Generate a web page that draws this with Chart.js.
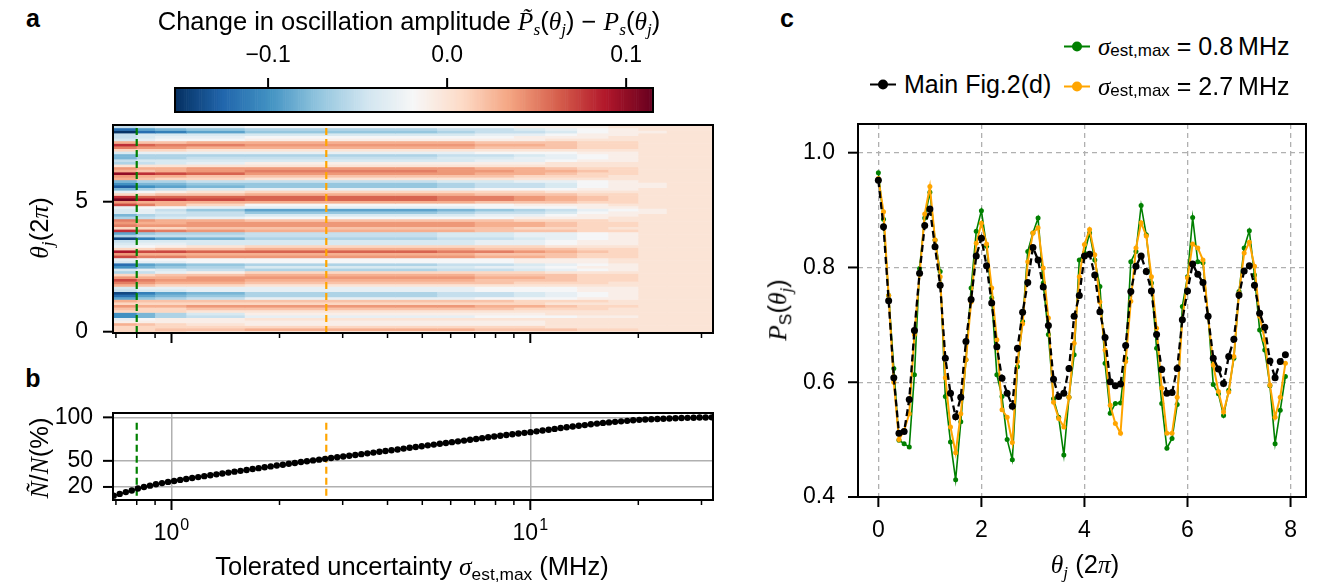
<!DOCTYPE html>
<html>
<head>
<meta charset="utf-8">
<script src="https://cdn.jsdelivr.net/npm/chart.js@4.4.0/dist/chart.umd.min.js"></script>
<style>
  body { margin: 0; background: #fff; }
  #fig { position: relative; width: 1319px; height: 587px; overflow: hidden;
         font-family: "Liberation Sans", Arial, sans-serif; color: #000; }
  canvas { position: absolute; }
  .lbl { position: absolute; white-space: nowrap; font-size: 25.5px; line-height: 1;
         transform: translate(-50%, -50%); z-index: 2; }
  .rot { transform: translate(-50%, -50%) rotate(-90deg); }
  .m { font-family: "Liberation Serif", "DejaVu Serif", serif; font-style: italic; }
  .sb { font-size: 0.68em; position: relative; top: 0.28em; }
  .panel { font-weight: bold; font-size: 25px; }
  .leg { position: absolute; display: flex; align-items: center; transform: translateY(-50%);
         font-size: 25px; white-space: nowrap; z-index: 2; }
  .mk { position: relative; width: 26px; height: 2px; background: var(--c); margin-right: 8px; }
  .mk::after { content: ""; position: absolute; left: 8px; top: -4px; width: 10px; height: 10px;
               border-radius: 50%; background: var(--c); }
</style>
</head>
<body>
<div id="fig">
  <canvas id="cbar" width="560" height="90" style="left:140px;top:30px"></canvas>
  <canvas id="heat" width="730" height="245" style="left:0;top:105px"></canvas>
  <canvas id="frac" width="730" height="192" style="left:0;top:395px"></canvas>
  <canvas id="osc" width="539" height="487" style="left:780px;top:100px"></canvas>

  <div class="lbl panel" style="left:33px;top:18px">a</div>
  <div class="lbl panel" style="left:33px;top:378px">b</div>
  <div class="lbl panel" style="left:787px;top:18px">c</div>

  <div class="lbl" style="left:409px;top:22px">Change in oscillation amplitude <span class="m">P̃</span><span class="sb m">s</span>(<span class="m">θ</span><span class="sb m">j</span>) − <span class="m">P</span><span class="sb m">s</span>(<span class="m">θ</span><span class="sb m">j</span>)</div>
  <div class="lbl rot" style="left:40px;top:228px"><span class="m">θ</span><span class="sb m">j</span>(2<span class="m">π</span>)</div>
  <div class="lbl rot" style="left:40px;top:458px"><span class="m">Ñ</span>/<span class="m">N</span>(%)</div>
  <div class="lbl" style="left:412px;top:567px">Tolerated uncertainty <span class="m">σ</span><span class="sb">est,max</span> (MHz)</div>
  <div class="lbl rot" style="left:778px;top:310px"><span class="m">P</span><span class="sb">S</span>(<span class="m">θ</span><span class="sb m">j</span>)</div>
  <div class="lbl" style="left:1085px;top:565px"><span class="m">θ</span><span class="sb m">j</span> (2<span class="m">π</span>)</div>

  <div class="leg" style="left:870px;top:84px"><span class="mk" style="--c:#000"></span>Main Fig.2(d)</div>
  <div class="leg" style="left:1064px;top:46px"><span class="mk" style="--c:#008000"></span><span class="m">σ</span><span class="sb">est,max</span>&nbsp;= 0.8&#8201;MHz</div>
  <div class="leg" style="left:1064px;top:86px"><span class="mk" style="--c:#ffa500"></span><span class="m">σ</span><span class="sb">est,max</span>&nbsp;= 2.7&#8201;MHz</div>
</div>

<script>
// --- DATA ---
// panel c: theta_j in units of 2pi
const thetaValues = [
  0.0, 0.1, 0.2, 0.3, 0.4, 0.5, 0.6, 0.7, 0.8, 0.9, 1.0, 1.1, 1.2, 1.3, 1.4, 1.5, 1.6, 1.7, 1.8, 1.9,
  2.0, 2.1, 2.2, 2.3, 2.4, 2.5, 2.6, 2.7, 2.8, 2.9, 3.0, 3.1, 3.2, 3.3, 3.4, 3.5, 3.6, 3.7, 3.8, 3.9,
  4.0, 4.1, 4.2, 4.3, 4.4, 4.5, 4.6, 4.7, 4.8, 4.9, 5.0, 5.1, 5.2, 5.3, 5.4, 5.5, 5.6, 5.7, 5.8, 5.9,
  6.0, 6.1, 6.2, 6.3, 6.4, 6.5, 6.6, 6.7, 6.8, 6.9, 7.0, 7.1, 7.2, 7.3, 7.4, 7.5, 7.6, 7.7, 7.8, 7.9
];
const psMainFig = [
  0.952, 0.871, 0.742, 0.608, 0.511, 0.514, 0.570, 0.690, 0.790, 0.873, 0.902, 0.836, 0.769, 0.642, 0.581, 0.540, 0.574, 0.671, 0.744, 0.820,
  0.851, 0.803, 0.738, 0.662, 0.607, 0.581, 0.558, 0.659, 0.722, 0.774, 0.835, 0.813, 0.766, 0.699, 0.605, 0.575, 0.581, 0.624, 0.715, 0.751,
  0.820, 0.823, 0.787, 0.723, 0.678, 0.601, 0.594, 0.597, 0.664, 0.758, 0.802, 0.820, 0.793, 0.759, 0.683, 0.622, 0.581, 0.582, 0.624, 0.709,
  0.759, 0.806, 0.788, 0.774, 0.715, 0.642, 0.623, 0.598, 0.645, 0.675, 0.752, 0.794, 0.803, 0.769, 0.720, 0.696, 0.637, 0.608, 0.636, 0.648
];
const psSigma08 = [
  0.965, 0.884, 0.751, 0.624, 0.499, 0.493, 0.487, 0.613, 0.798, 0.886, 0.931, 0.848, 0.793, 0.575, 0.496, 0.430, 0.531, 0.639, 0.764, 0.863,
  0.899, 0.837, 0.747, 0.613, 0.575, 0.500, 0.465, 0.627, 0.706, 0.828, 0.860, 0.886, 0.773, 0.683, 0.571, 0.539, 0.473, 0.574, 0.648, 0.813,
  0.825, 0.860, 0.813, 0.767, 0.633, 0.546, 0.563, 0.564, 0.642, 0.810, 0.828, 0.908, 0.857, 0.773, 0.659, 0.563, 0.485, 0.502, 0.561, 0.732,
  0.784, 0.887, 0.810, 0.808, 0.715, 0.596, 0.580, 0.542, 0.586, 0.642, 0.758, 0.834, 0.864, 0.787, 0.691, 0.656, 0.594, 0.493, 0.551, 0.610
];
const psSigma27 = [
  0.955, 0.897, 0.751, 0.600, 0.500, 0.516, 0.545, 0.683, 0.788, 0.893, 0.941, 0.848, 0.784, 0.608, 0.522, 0.477, 0.545, 0.639, 0.740, 0.842,
  0.877, 0.841, 0.764, 0.674, 0.552, 0.539, 0.495, 0.636, 0.702, 0.810, 0.860, 0.869, 0.799, 0.712, 0.565, 0.537, 0.522, 0.574, 0.668, 0.784,
  0.840, 0.866, 0.822, 0.740, 0.656, 0.560, 0.528, 0.511, 0.636, 0.741, 0.834, 0.878, 0.855, 0.784, 0.694, 0.590, 0.511, 0.511, 0.574, 0.709,
  0.782, 0.841, 0.834, 0.813, 0.715, 0.630, 0.584, 0.548, 0.583, 0.645, 0.755, 0.825, 0.844, 0.802, 0.715, 0.674, 0.595, 0.539, 0.574, 0.633
];

// panel b: tolerated uncertainty (MHz) and retained fraction (%)
const sigmaSamples = [
  0.690, 0.717, 0.746, 0.775, 0.806, 0.838, 0.871, 0.905, 0.941, 0.978,
  1.017, 1.057, 1.099, 1.142, 1.187, 1.234, 1.283, 1.334, 1.386, 1.441,
  1.498, 1.557, 1.619, 1.683, 1.749, 1.818, 1.890, 1.965, 2.043, 2.123,
  2.207, 2.295, 2.385, 2.480, 2.578, 2.680, 2.785, 2.896, 3.010, 3.129,
  3.253, 3.381, 3.515, 3.654, 3.798, 3.948, 4.104, 4.267, 4.435, 4.611,
  4.793, 4.982, 5.179, 5.384, 5.597, 5.818, 6.048, 6.287, 6.536, 6.794,
  7.063, 7.342, 7.632, 7.934, 8.248, 8.574, 8.913, 9.265, 9.631, 10.01,
  10.41, 10.82, 11.25, 11.69, 12.15, 12.63, 13.13, 13.65, 14.19, 14.75,
  15.34, 15.94, 16.57, 17.23, 17.91, 18.62, 19.35, 20.12, 20.91, 21.74,
  22.60, 23.49, 24.42, 25.39, 26.39, 27.43, 28.52, 29.64, 30.81, 32.03
];
const retainedPct = [
  10.0, 12.0, 14.1, 16.0, 18.2, 19.9, 21.5, 23.1, 24.4, 25.8,
  26.9, 28.1, 29.2, 30.3, 31.3, 32.4, 33.5, 34.5, 35.5, 36.5,
  37.6, 38.5, 39.5, 40.6, 41.6, 42.6, 43.6, 44.6, 45.6, 46.6,
  47.6, 48.6, 49.6, 50.5, 51.4, 52.3, 53.2, 54.1, 55.0, 55.9,
  56.8, 57.7, 58.6, 59.5, 60.4, 61.3, 62.2, 63.1, 64.1, 65.0,
  65.9, 66.8, 67.8, 68.7, 69.6, 70.6, 71.5, 72.4, 73.3, 74.3,
  75.2, 76.1, 77.1, 78.0, 78.8, 79.7, 80.5, 81.4, 82.2, 83.0,
  83.9, 84.9, 85.8, 86.7, 87.7, 88.6, 89.4, 90.3, 91.1, 92.0,
  92.8, 93.6, 94.2, 94.8, 95.4, 96.0, 96.6, 97.1, 97.5, 97.8,
  98.1, 98.4, 98.7, 99.0, 99.2, 99.4, 99.6, 99.8, 99.9, 100.0
];
const markerSigmas = [0.8, 2.7];

// panel a: heatmap column edges (MHz) and change per row (units of 0.01), row i <-> thetaValues[i]
const sigmaEdges = [0.687, 0.8, 0.9, 1.1, 1.6, 2.7, 4.2, 5.5, 7, 9, 11, 13.5, 16.5, 20, 24, 32.3];
const changeGrid = [
  [1,1,1,0,0,0,0,0,0,0,0,0,0,0,0],
  [1,1,2,2,3,3,3,3,2,2,2,1,1,0,0],
  [1,1,1,1,1,1,1,1,1,1,0,0,0,0,0],
  [3,2,1,0,-1,-1,-1,-1,-1,-1,0,0,0,0,0],
  [-1,-1,-1,-1,-1,-1,-1,-1,-1,-1,0,0,0,0,0],
  [-3,-2,-1,-1,0,0,0,0,0,0,0,0,0,0,0],
  [-10,-8,-6,-5,-3,-3,-3,-3,-2,-2,-2,-1,-1,0,0],
  [-10,-8,-6,-4,-1,-1,-1,-1,-1,-1,0,0,0,0,0],
  [1,1,1,0,0,0,0,0,0,0,0,0,0,0,0],
  [2,1,1,2,2,2,2,2,2,1,1,1,0,0,0],
  [4,3,3,4,4,4,4,4,3,3,2,1,1,0,0],
  [1,1,1,1,1,1,1,1,1,1,0,0,0,0,0],
  [3,2,2,2,2,2,2,2,2,1,1,1,0,0,0],
  [-9,-7,-6,-5,-3,-3,-3,-3,-2,-2,-2,-1,-1,0,0],
  [-12,-9,-8,-7,-6,-6,-6,-5,-5,-4,-3,-2,-1,0,0],
  [-14,-11,-9,-8,-6,-6,-6,-5,-5,-4,-3,-2,-1,0,0],
  [-5,-4,-4,-3,-3,-3,-3,-3,-2,-2,-2,-1,-1,0,0],
  [-4,-3,-3,-3,-3,-3,-3,-3,-2,-2,-2,-1,-1,0,0],
  [3,2,1,1,0,0,0,0,0,0,0,0,0,0,0],
  [5,4,3,3,2,2,2,2,2,1,1,1,0,0,0],
  [7,5,4,4,3,3,3,3,2,2,2,1,1,0,0],
  [4,3,3,4,4,4,4,4,3,3,2,1,1,0,0],
  [1,1,2,2,3,3,3,3,2,2,2,1,1,0,0],
  [-6,-5,-3,-1,1,1,1,1,1,1,0,0,0,0,0],
  [-4,-3,-4,-5,-6,-6,-6,-5,-5,-4,-3,-2,-1,0,0],
  [-10,-8,-7,-6,-4,-4,-4,-4,-3,-3,-2,-1,-1,0,0],
  [-12,-9,-8,-7,-6,-6,-6,-5,-5,-4,-3,-2,-1,0,0],
  [-4,-3,-3,-2,-2,-2,-2,-2,-2,-1,-1,-1,0,0,0],
  [-3,-2,-2,-2,-2,-2,-2,-2,-2,-1,-1,-1,0,0,0],
  [7,5,5,4,4,4,4,4,3,3,2,1,1,0,0],
  [4,3,3,3,3,3,3,3,2,2,2,1,1,0,0],
  [9,7,7,6,6,6,6,5,5,4,3,2,1,0,0],
  [1,1,2,2,3,3,3,3,2,2,2,1,1,0,0],
  [-3,-2,-1,0,1,1,1,1,1,1,0,0,0,0,0],
  [-4,-3,-3,-4,-4,-4,-4,-4,-3,-3,-2,-1,-1,0,0],
  [-5,-4,-4,-4,-4,-4,-4,-4,-3,-3,-2,-1,-1,0,0],
  [-14,-11,-9,-8,-6,-6,-6,-5,-5,-4,-3,-2,-1,0,0],
  [-6,-5,-5,-5,-5,-5,-5,-4,-4,-3,-3,-2,-1,0,0],
  [-9,-7,-6,-6,-5,-5,-5,-4,-4,-3,-3,-2,-1,0,0],
  [8,6,5,4,3,3,3,3,2,2,2,1,1,0,0],
  [1,1,1,2,2,2,2,2,2,1,1,1,0,0,0],
  [5,4,4,4,4,4,4,4,3,3,2,1,1,0,0],
  [4,3,3,4,4,4,4,4,3,3,2,1,1,0,0],
  [5,4,3,3,2,2,2,2,2,1,1,1,0,0,0],
  [-6,-5,-4,-3,-2,-2,-2,-2,-2,-1,-1,-1,0,0,0],
  [-8,-6,-5,-5,-4,-4,-4,-4,-3,-3,-2,-1,-1,0,0],
  [-4,-3,-4,-5,-7,-7,-7,-6,-5,-5,-4,-2,-1,-1,0],
  [-4,-3,-5,-7,-9,-9,-9,-8,-7,-6,-5,-3,-2,-1,0],
  [-3,-2,-2,-3,-3,-3,-3,-3,-2,-2,-2,-1,-1,0,0],
  [7,5,3,1,-2,-2,-2,-2,-2,-1,-1,-1,0,0,0],
  [4,3,3,3,3,3,3,3,2,2,2,1,1,0,0],
  [11,9,8,7,6,6,6,5,5,4,3,2,1,0,0],
  [8,6,6,6,6,6,6,5,5,4,3,2,1,0,0],
  [1,1,2,2,3,3,3,3,2,2,2,1,1,0,0],
  [-3,-2,-1,0,1,1,1,1,1,1,0,0,0,0,0],
  [-8,-6,-5,-4,-3,-3,-3,-3,-2,-2,-2,-1,-1,0,0],
  [-13,-10,-9,-8,-7,-7,-7,-6,-5,-5,-4,-2,-1,-1,0],
  [-10,-8,-8,-7,-7,-7,-7,-6,-5,-5,-4,-2,-1,-1,0],
  [-8,-6,-6,-5,-5,-5,-5,-4,-4,-3,-3,-2,-1,0,0],
  [3,2,1,1,0,0,0,0,0,0,0,0,0,0,0],
  [4,3,3,2,2,2,2,2,2,1,1,1,0,0,0],
  [10,8,7,6,4,4,4,4,3,3,2,1,1,0,0],
  [3,2,3,4,5,5,5,4,4,3,3,2,1,0,0],
  [4,3,3,4,4,4,4,4,3,3,2,1,1,0,0],
  [0,0,0,0,0,0,0,0,0,0,0,0,0,0,0],
  [-6,-5,-4,-3,-1,-1,-1,-1,-1,-1,0,0,0,0,0],
  [-5,-4,-4,-4,-4,-4,-4,-4,-3,-3,-2,-1,-1,0,0],
  [-8,-6,-6,-5,-5,-5,-5,-4,-4,-3,-3,-2,-1,0,0],
  [-8,-6,-6,-6,-6,-6,-6,-5,-5,-4,-3,-2,-1,0,0],
  [-4,-3,-3,-3,-3,-3,-3,-3,-2,-2,-2,-1,-1,0,0],
  [1,1,1,0,0,0,0,0,0,0,0,0,0,0,0],
  [5,4,4,3,3,3,3,3,2,2,2,1,1,0,0],
  [8,6,5,5,4,4,4,4,3,3,2,1,1,0,0],
  [3,2,2,3,3,3,3,3,2,2,2,1,1,0,0],
  [-4,-3,-2,-2,-1,-1,-1,-1,-1,-1,0,0,0,0,0],
  [-5,-4,-3,-3,-2,-2,-2,-2,-2,-1,-1,-1,0,0,0],
  [-5,-4,-4,-4,-4,-4,-4,-4,-3,-3,-2,-1,-1,0,0],
  [-15,-12,-11,-9,-7,-7,-7,-6,-5,-5,-4,-2,-1,-1,0],
  [-12,-9,-8,-7,-6,-6,-6,-5,-5,-4,-3,-2,-1,0,0],
  [-5,-4,-3,-3,-2,-2,-2,-2,-2,-1,-1,-1,0,0,0]
];

// tick labels / positions
const cbarTicks = [-0.1, 0.0, 0.1];
const heatYTicks = [0, 5];
const fracYTicks = [20, 50, 100];
const logMajorTicks = [1, 10];
const logMinorTicks = [0.7, 0.8, 0.9, 2, 3, 4, 5, 6, 7, 8, 9, 20, 30];
const oscXTicks = [0, 2, 4, 6, 8];
const oscYTicks = [0.4, 0.6, 0.8, 1.0];

// --- STYLE ---
const CBAR_MIN = -0.152, CBAR_MAX = 0.115;
const SIGMA_MIN = 0.687, SIGMA_MAX = 32.3;
const ROW_HALF = 0.05;
const GREEN = '#008000', ORANGE = '#ffa500';
const GRID_GREY = '#b0b0b0';
const RDBU_R = ['#053061', '#2166ac', '#4393c3', '#92c5de', '#d1e5f0', '#f7f7f7',
                '#fddbc7', '#f4a582', '#d6604d', '#b2182b', '#67001f'];

Chart.defaults.font.family = '"Liberation Sans", Arial, sans-serif';
Chart.defaults.font.size = 23;
Chart.defaults.color = '#000';
Chart.defaults.animation = false;
Chart.defaults.events = [];
Chart.defaults.plugins.legend.display = false;
Chart.defaults.plugins.tooltip.enabled = false;

const hexRgb = h => [1, 3, 5].map(i => parseInt(h.substr(i, 2), 16));
const cmapRgb = RDBU_R.map(hexRgb);
function colourFor(v) {
  let t = (v - CBAR_MIN) / (CBAR_MAX - CBAR_MIN);
  t = Math.min(1, Math.max(0, t)) * (cmapRgb.length - 1);
  const i = Math.min(cmapRgb.length - 2, Math.floor(t));
  const f = t - i;
  const c = cmapRgb[i].map((a, k) => Math.round(a + (cmapRgb[i + 1][k] - a) * f));
  return `rgb(${c[0]},${c[1]},${c[2]})`;
}

// scale box sizes fixed so the chart areas land where the figure has them
function fixSize(size) {
  return s => {
    if (s.isHorizontal()) s.height = size; else s.width = size;
    s.paddingLeft = s.paddingRight = s.paddingTop = s.paddingBottom = 0;
  };
}
const setTicks = values => s => { s.ticks = values.map(v => ({ value: v })); };

function drawTickMarks(ctx, scale, values, len, width, a) {
  ctx.save();
  ctx.strokeStyle = '#000';
  ctx.lineWidth = width;
  values.forEach(v => {
    const p = scale.getPixelForValue(v);
    ctx.beginPath();
    if (scale.isHorizontal()) {
      const y0 = scale.position === 'top' ? a.top : a.bottom;
      const dir = scale.position === 'top' ? -1 : 1;
      ctx.moveTo(p, y0);
      ctx.lineTo(p, y0 + dir * len);
    } else {
      ctx.moveTo(a.left, p);
      ctx.lineTo(a.left - len, p);
    }
    ctx.stroke();
  });
  ctx.restore();
}

function decor(tickSpec) {
  return {
    id: 'decor',
    afterDraw(chart) {
      const { ctx, chartArea: a } = chart;
      tickSpec.forEach(([id, values, len, width]) => drawTickMarks(ctx, chart.scales[id], values, len, width, a));
      ctx.save();
      ctx.strokeStyle = '#000';
      ctx.lineWidth = 2;
      ctx.strokeRect(a.left, a.top, a.width, a.height);
      ctx.restore();
    }
  };
}

const vline = (x, y0, y1, colour) => ({
  data: [{ x: x, y: y0 }, { x: x, y: y1 }],
  showLine: true, borderColor: colour, borderWidth: 2.2, borderDash: [7, 4], pointRadius: 0
});

// --- COLORBAR ---
new Chart(document.getElementById('cbar'), {
  type: 'scatter',
  data: { datasets: [] },
  options: {
    responsive: false, devicePixelRatio: 1,
    layout: { autoPadding: false, padding: { left: 35, right: 47, top: 0, bottom: 8 } },
    scales: {
      x: {
        type: 'linear', position: 'top', min: CBAR_MIN, max: CBAR_MAX,
        afterBuildTicks: setTicks(cbarTicks), afterFit: fixSize(58),
        grid: { display: false }, border: { display: false },
        ticks: { padding: 11, callback: v => (v < 0 ? '−' : '') + Math.abs(v).toFixed(1) }
      },
      y: { display: false, min: 0, max: 1 }
    }
  },
  plugins: [{
    id: 'gradient',
    beforeDatasetsDraw(chart) {
      const { ctx, chartArea: a, scales: { x } } = chart;
      const steps = 256;
      for (let k = 0; k < steps; k++) {
        const v0 = CBAR_MIN + (CBAR_MAX - CBAR_MIN) * k / steps;
        const v1 = CBAR_MIN + (CBAR_MAX - CBAR_MIN) * (k + 1) / steps;
        const p0 = x.getPixelForValue(v0), p1 = x.getPixelForValue(v1);
        ctx.fillStyle = colourFor((v0 + v1) / 2);
        ctx.fillRect(p0, a.top, p1 - p0 + 0.6, a.height);
      }
    }
  }, decor([['x', cbarTicks, 10, 2]])]
});

// --- PANEL A: HEATMAP ---
new Chart(document.getElementById('heat'), {
  type: 'scatter',
  data: {
    datasets: [
      vline(markerSigmas[0], thetaValues[0] - ROW_HALF, thetaValues[thetaValues.length - 1] + ROW_HALF, GREEN),
      vline(markerSigmas[1], thetaValues[0] - ROW_HALF, thetaValues[thetaValues.length - 1] + ROW_HALF, ORANGE)
    ]
  },
  options: {
    responsive: false, devicePixelRatio: 1,
    layout: { autoPadding: false, padding: { left: 0, right: 17, top: 20, bottom: 0 } },
    scales: {
      x: {
        type: 'logarithmic', min: SIGMA_MIN, max: SIGMA_MAX, afterFit: fixSize(17),
        grid: { display: false }, border: { display: false }, ticks: { display: false }
      },
      y: {
        type: 'linear', min: thetaValues[0] - ROW_HALF, max: thetaValues[thetaValues.length - 1] + ROW_HALF,
        afterBuildTicks: setTicks(heatYTicks), afterFit: fixSize(113),
        grid: { display: false }, border: { display: false },
        ticks: { padding: 17, callback: v => String(v) }
      }
    }
  },
  plugins: [{
    id: 'cells',
    beforeDatasetsDraw(chart) {
      const { ctx, chartArea: a, scales: { x, y } } = chart;
      ctx.save();
      ctx.beginPath();
      ctx.rect(a.left, a.top, a.width, a.height);
      ctx.clip();
      changeGrid.forEach((row, i) => {
        const yTop = y.getPixelForValue(thetaValues[i] + ROW_HALF);
        const yBot = y.getPixelForValue(thetaValues[i] - ROW_HALF);
        row.forEach((v, j) => {
          const x0 = x.getPixelForValue(sigmaEdges[j]);
          const x1 = x.getPixelForValue(sigmaEdges[j + 1]);
          ctx.fillStyle = colourFor(v / 100);
          ctx.fillRect(x0, yTop, x1 - x0 + 0.6, yBot - yTop + 0.6);
        });
      });
      ctx.restore();
    }
  }, decor([['x', logMajorTicks, 10, 2], ['x', logMinorTicks, 5, 1.5], ['y', heatYTicks, 10, 2]])]
});

// --- PANEL B: RETAINED FRACTION ---
new Chart(document.getElementById('frac'), {
  type: 'scatter',
  data: {
    datasets: [
      {
        data: sigmaSamples.map((s, i) => ({ x: s, y: retainedPct[i] })),
        showLine: true, borderColor: '#000', borderWidth: 1.5,
        pointRadius: 3.2, pointBackgroundColor: '#000', pointBorderWidth: 0
      },
      vline(markerSigmas[0], 10, 97, GREEN),
      vline(markerSigmas[1], 10, 97, ORANGE)
    ]
  },
  options: {
    responsive: false, devicePixelRatio: 1,
    layout: { autoPadding: false, padding: { left: 0, right: 17, top: 18, bottom: 0 } },
    scales: {
      x: {
        type: 'logarithmic', min: SIGMA_MIN, max: SIGMA_MAX,
        afterBuildTicks: setTicks(logMajorTicks), afterFit: fixSize(87),
        grid: { color: GRID_GREY, lineWidth: 1.5, drawTicks: false }, border: { display: false },
        ticks: { display: false }
      },
      y: {
        type: 'linear', min: 5, max: 105,
        afterBuildTicks: setTicks(fracYTicks), afterFit: fixSize(113),
        grid: { color: GRID_GREY, lineWidth: 1.5, drawTicks: false }, border: { display: false },
        ticks: { padding: 20, callback: v => String(v) }
      }
    }
  },
  plugins: [{
    id: 'powerLabels',
    afterDraw(chart) {
      const { ctx, chartArea: a, scales: { x } } = chart;
      const fam = Chart.defaults.font.family;
      ctx.save();
      ctx.fillStyle = '#000';
      ctx.textBaseline = 'alphabetic';
      logMajorTicks.forEach(v => {
        const base = '10', pow = String(Math.round(Math.log10(v)));
        ctx.font = '23px ' + fam;
        const wb = ctx.measureText(base).width;
        ctx.font = '16px ' + fam;
        const wp = ctx.measureText(pow).width;
        const x0 = x.getPixelForValue(v) - (wb + wp + 1) / 2;
        ctx.font = '23px ' + fam;
        ctx.fillText(base, x0, a.bottom + 40);
        ctx.font = '16px ' + fam;
        ctx.fillText(pow, x0 + wb + 1, a.bottom + 30);
      });
      ctx.restore();
    }
  }, decor([['x', logMajorTicks, 10, 2], ['x', logMinorTicks, 5, 1.5], ['y', fracYTicks, 10, 2]])]
});

// --- PANEL C: OSCILLATIONS ---
const asPoints = arr => thetaValues.map((t, i) => ({ x: t, y: arr[i] }));
new Chart(document.getElementById('osc'), {
  type: 'scatter',
  data: {
    datasets: [
      {
        label: 'Main Fig.2(d)', data: asPoints(psMainFig), order: 0,
        showLine: true, borderColor: '#000', borderWidth: 2.3, borderDash: [7, 4],
        pointRadius: 3.5, pointBackgroundColor: '#000', pointBorderWidth: 0
      },
      {
        label: 'σ = 2.7 MHz', data: asPoints(psSigma27), order: 1,
        showLine: true, borderColor: ORANGE, borderWidth: 2,
        pointRadius: 2.5, pointBackgroundColor: ORANGE, pointBorderWidth: 0
      },
      {
        label: 'σ = 0.8 MHz', data: asPoints(psSigma08), order: 2,
        showLine: true, borderColor: GREEN, borderWidth: 1.6,
        pointRadius: 2.5, pointBackgroundColor: GREEN, pointBorderWidth: 0
      }
    ]
  },
  options: {
    responsive: false, devicePixelRatio: 1,
    layout: { autoPadding: false, padding: { left: 0, right: 13, top: 24, bottom: 0 } },
    scales: {
      x: {
        type: 'linear', min: -0.395, max: 8.3,
        afterBuildTicks: setTicks(oscXTicks), afterFit: fixSize(90),
        grid: { color: GRID_GREY, lineWidth: 1.3, drawTicks: false }, border: { display: false, dash: [5, 4] },
        ticks: { padding: 20, callback: v => String(v) }
      },
      y: {
        type: 'linear', min: 0.4, max: 1.05,
        afterBuildTicks: setTicks(oscYTicks), afterFit: fixSize(78),
        grid: { color: GRID_GREY, lineWidth: 1.3, drawTicks: false }, border: { display: false, dash: [5, 4] },
        ticks: { padding: 23, callback: v => v.toFixed(1) }
      }
    }
  },
  plugins: [decor([['x', oscXTicks, 10, 2], ['y', oscYTicks, 10, 2]])]
});
</script>
</body>
</html>
